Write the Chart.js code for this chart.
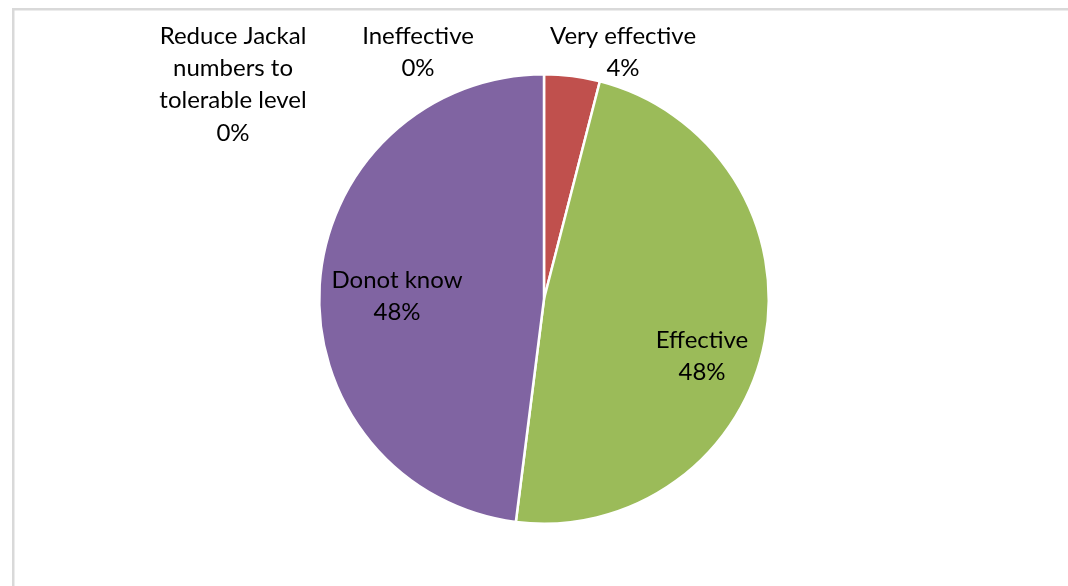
<!DOCTYPE html>
<html>
<head>
<meta charset="utf-8">
<script src="https://cdn.jsdelivr.net/npm/chart.js@4/dist/chart.umd.min.js"></script>
<style>
  html, body { margin: 0; padding: 0; background: #ffffff; }
  #wrap { width: 1068px; height: 586px; position: relative; }
</style>
</head>
<body>
<div id="wrap"><canvas id="c" width="1068" height="586"></canvas></div>
<script>
// Survey responses: perceived effectiveness of the control method
const categories = ['Ineffective', 'Very effective', 'Effective', 'Donot know', 'Reduce Jackal numbers to tolerable level'];
const shares = [0, 4, 48, 48, 0];
const sliceColors = ['#4F81BD', '#C0504D', '#9BBB59', '#8064A2', '#4BACC6'];

// Label text lines (category wrapped as shown) and anchor of each label block (centre x, first-line y)
const labelLines = [['Ineffective'], ['Very effective'], ['Effective'], ['Donot know'], ['Reduce Jackal', 'numbers to', 'tolerable level']];
const labelAnchors = [[418, 36], [623, 36], [702, 340], [397, 280], [233, 36]];
const LINE_H = 32.3;
const FONT = '24px Lato, "Open Sans", sans-serif';

const framePlugin = {
  id: 'frame',
  beforeDraw(chart) {
    const ctx = chart.ctx;
    ctx.save();
    ctx.fillStyle = '#ffffff';
    ctx.fillRect(0, 0, chart.width, chart.height);
    ctx.fillStyle = '#d9d9d9';
    ctx.fillRect(12, 8, chart.width - 12, 2.5);
    ctx.fillRect(12, 8, 2.5, chart.height - 8);
    ctx.restore();
  }
};

const labelPlugin = {
  id: 'sliceLabels',
  afterDatasetsDraw(chart) {
    const ctx = chart.ctx;
    const data = chart.data.datasets[0].data;
    ctx.save();
    ctx.font = FONT;
    ctx.fillStyle = '#000000';
    ctx.textAlign = 'center';
    ctx.textBaseline = 'middle';
    data.forEach((v, i) => {
      const lines = labelLines[i].concat([v + '%']);
      const [x, y] = labelAnchors[i];
      lines.forEach((t, k) => ctx.fillText(t, x, y + k * LINE_H));
    });
    ctx.restore();
  }
};

new Chart(document.getElementById('c'), {
  type: 'pie',
  data: {
    labels: categories,
    datasets: [{
      data: shares,
      backgroundColor: sliceColors,
      borderColor: '#ffffff',
      borderWidth: 2.5
    }]
  },
  options: {
    responsive: false,
    animation: false,
    layout: { padding: { left: 318, right: 298, top: 73, bottom: 61 } },
    plugins: {
      legend: { display: false },
      tooltip: { enabled: false }
    }
  },
  plugins: [framePlugin, labelPlugin]
});
</script>
</body>
</html>
